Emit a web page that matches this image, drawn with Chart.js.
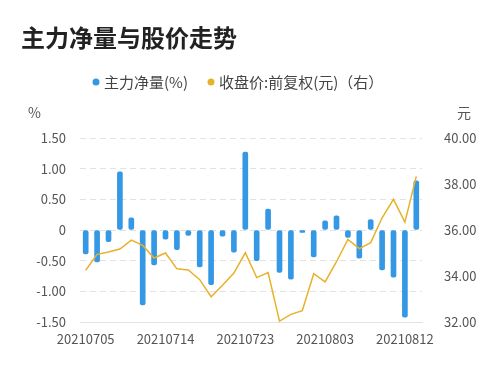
<!DOCTYPE html>
<html>
<head>
<meta charset="utf-8">
<script src="https://cdn.jsdelivr.net/npm/chart.js@4"></script>
<style>
  html, body { margin: 0; padding: 0; background: #fff; }
  #wrap { width: 500px; height: 372px; position: relative; }
</style>
</head>
<body>
<div id="wrap"><canvas id="c" width="500" height="372"></canvas></div>
<script>
// 日期（交易日）
var dates = [
    '20210705', '20210706', '20210707', '20210708', '20210709',
    '20210712', '20210713', '20210714', '20210715', '20210716',
    '20210719', '20210720', '20210721', '20210722', '20210723',
    '20210726', '20210727', '20210728', '20210729', '20210730',
    '20210802', '20210803', '20210804', '20210805', '20210806',
    '20210809', '20210810', '20210811', '20210812', '20210813'
];

// 主力净量(%)
var netFlow = [
    -0.39, -0.52, -0.19, 0.95, 0.20, -1.22, -0.57, -0.15, -0.32, -0.09,
    -0.60, -0.89, -0.10, -0.36, 1.27, -0.50, 0.34, -0.69, -0.80, -0.04,
    -0.44, 0.15, 0.23, -0.12, -0.46, 0.17, -0.65, -0.77, -1.42, 0.80
];

// 收盘价:前复权(元)
var closePrice = [
    34.25, 34.94, 35.04, 35.17, 35.56, 35.33, 34.78, 35.00, 34.31, 34.26,
    33.84, 33.10, 33.60, 34.13, 35.01, 33.93, 34.15, 32.04, 32.33, 32.49,
    34.10, 33.74, 34.62, 35.59, 35.19, 35.45, 36.53, 37.33, 36.34, 38.33
];

var leftTicks = [-1.5, -1.0, -0.5, 0, 0.5, 1.0, 1.5];
var rightTicks = [32, 34, 36, 38, 40];

var FONT = '"Noto Sans CJK SC", "Noto Sans", sans-serif';
var BLUE = '#3598e4';
var GOLD = '#e8b12a';

// 标题、图例、单位手动绘制
var decorPlugin = {
    id: 'decor',
    afterDraw: function (chart) {
        var ctx = chart.ctx;
        ctx.save();
        ctx.textBaseline = 'middle';

        ctx.fillStyle = '#222';
        ctx.font = 'bold 24px ' + FONT;
        ctx.textAlign = 'left';
        ctx.fillText('主力净量与股价走势', 21, 38);

        // 图例
        ctx.font = '15px ' + FONT;
        ctx.fillStyle = BLUE;
        ctx.beginPath(); ctx.arc(96, 82, 3.5, 0, Math.PI * 2); ctx.fill();
        ctx.fillStyle = '#444';
        ctx.fillText('主力净量(%)', 104, 82);
        ctx.fillStyle = GOLD;
        ctx.beginPath(); ctx.arc(211, 82, 3.5, 0, Math.PI * 2); ctx.fill();
        ctx.fillStyle = '#444';
        ctx.fillText('收盘价:前复权(元)（右）', 219, 82);

        // 单位
        ctx.fillStyle = '#555';
        ctx.font = '14px ' + FONT;
        ctx.fillText('%', 28, 113);
        ctx.fillText('元', 457, 113);
        ctx.restore();
    }
};

new Chart(document.getElementById('c'), {
    data: {
        labels: dates,
        datasets: [
            {
                type: 'line',
                label: '收盘价:前复权(元)（右）',
                data: closePrice,
                yAxisID: 'yRight',
                borderColor: GOLD,
                borderWidth: 1.5,
                pointRadius: 0,
                tension: 0,
                order: 0
            },
            {
                type: 'bar',
                label: '主力净量(%)',
                data: netFlow,
                yAxisID: 'yLeft',
                backgroundColor: BLUE,
                barThickness: 5,
                borderRadius: 2,
                borderSkipped: false,
                order: 1
            }
        ]
    },
    options: {
        responsive: false,
        animation: false,
        layout: { padding: { top: 138, bottom: 0, left: 0, right: 0 } },
        plugins: {
            legend: { display: false },
            tooltip: { enabled: false }
        },
        scales: {
            x: {
                offset: true,
                grid: { display: false, drawTicks: false },
                border: { display: true, color: '#e3e3e3' },
                ticks: {
                    autoSkip: false,
                    maxRotation: 0,
                    padding: 9,
                    color: '#555',
                    font: { family: FONT, size: 13 },
                    callback: function (v, i) { return i % 7 === 0 ? dates[i] : ''; }
                },
                afterFit: function (s) { s.height = 50; }
            },
            yLeft: {
                position: 'left',
                min: -1.5,
                max: 1.5,
                afterBuildTicks: function (s) { s.ticks = leftTicks.map(function (v) { return { value: v }; }); },
                grid: { color: '#e2e2e2', drawTicks: false },
                border: { display: false, dash: [6, 4] },
                ticks: {
                    padding: 14,
                    color: '#555',
                    font: { family: FONT, size: 13 },
                    callback: function (v) { return v === 0 ? '0' : v.toFixed(2); }
                },
                afterFit: function (s) { s.width = 80; }
            },
            yRight: {
                position: 'right',
                min: 32,
                max: 40,
                afterBuildTicks: function (s) { s.ticks = rightTicks.map(function (v) { return { value: v }; }); },
                grid: { display: false },
                border: { display: false },
                ticks: {
                    padding: 14,
                    color: '#555',
                    font: { family: FONT, size: 13 },
                    callback: function (v) { return v.toFixed(2); }
                },
                afterFit: function (s) { s.width = 78; }
            }
        }
    },
    plugins: [decorPlugin]
});
</script>
</body>
</html>
